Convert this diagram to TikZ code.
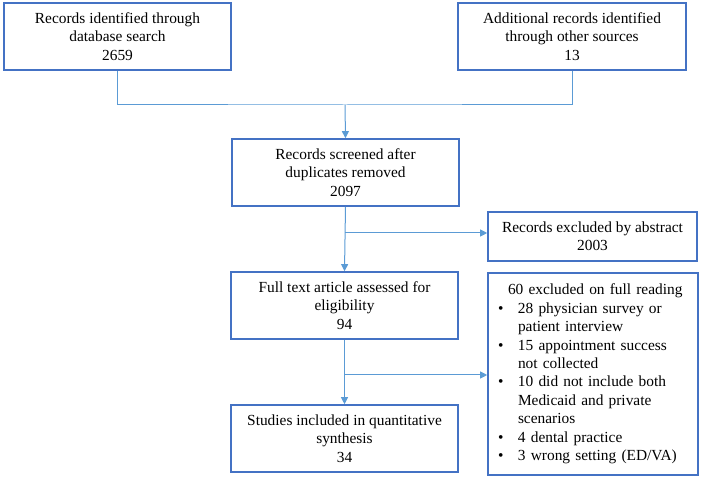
\documentclass[tikz,border=0pt]{standalone}
\usepackage{fontspec}
\setmainfont{Liberation Serif}
\usepackage{tikz}
\usetikzlibrary{calc,arrows.meta}
\definecolor{boxblue}{RGB}{68,114,196}
\definecolor{linkblue}{RGB}{91,155,213}
\newcommand{\bulitem}{\makebox[20pt][l]{\textbullet}}
\newcommand{\bulcont}{\hspace*{20pt}}
\begin{document}
\begin{tikzpicture}[x=1pt, y=1pt,
  box/.style={draw=boxblue, line width=1.6pt, align=center, inner sep=2pt,
    font=\fontsize{15.4}{18.4}\selectfont},
  link/.style={draw=linkblue, line width=1pt},
  arr/.style={link, -{Triangle[width=7pt,length=7pt]}}]

\useasboundingbox (0,0) rectangle (701,479);

% identification
\node [box, minimum width=227pt, minimum height=67pt] (recdb) at (117.5, 442.5)
  {Records identified through\\database search\\2659};
\node [box, minimum width=228pt, minimum height=67pt] (recother) at (572, 442.5)
  {Additional records identified\\through other sources\\13};

% screening
\node [box, minimum width=227pt, minimum height=67pt] (screened) at (345.5, 306.5)
  {Records screened after\\duplicates removed\\2097};
\node [box, minimum width=209pt, minimum height=49pt] (exabs) at (592.5, 242.5)
  {Records excluded by abstract\\2003};

% eligibility
\node [box, minimum width=227pt, minimum height=67pt] (fulltext) at (344.5, 173.5)
  {Full text article assessed for\\eligibility\\94};
\node [box, text width=190pt, inner xsep=10pt, align=left,
  minimum height=202pt] (exfull) at (593, 105)
  {\hspace*{10pt}60 excluded on full reading\\
   \bulitem 28 physician survey or\\
   \bulcont patient interview\\
   \bulitem 15 appointment success\\
   \bulcont not collected\\
   \bulitem 10 did not include both\\
   \bulcont Medicaid and private\\
   \bulcont scenarios\\
   \bulitem 4 dental practice\\
   \bulitem 3 wrong setting (ED/VA)};

% included
\node [box, minimum width=227pt, minimum height=67pt] (included) at (344.5, 40.5)
  {Studies included in quantitative\\synthesis\\34};

% connectors
\coordinate (join) at (345, 374);
\coordinate (br1) at (345, 246);
\coordinate (br2) at (345, 104);

\draw [link] (recdb.south) |- (join) -| (recother.south);
\draw [arr] (join) -- (screened.north);
\draw [arr] (screened.south) -- (fulltext.north);
\draw [arr] (br1) -- (br1 -| exabs.west);
\draw [arr] (fulltext.south) -- (included.north);
\draw [arr] (br2) -- (br2 -| exfull.west);

\end{tikzpicture}
\end{document}
